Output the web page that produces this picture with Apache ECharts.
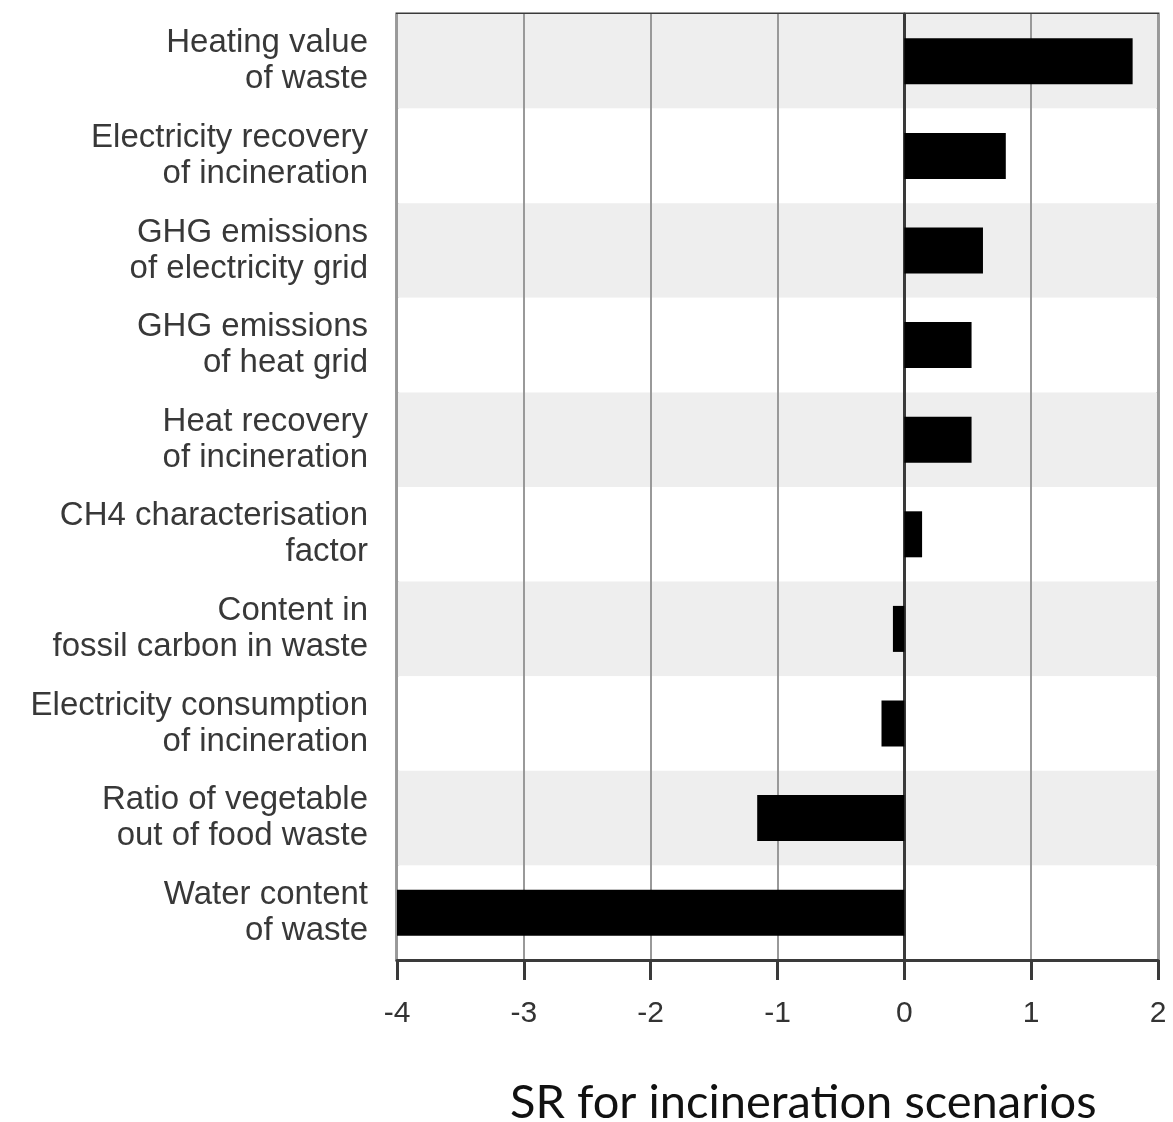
<!DOCTYPE html>
<html><head><meta charset="utf-8">
<script src="https://cdn.jsdelivr.net/npm/echarts@6/dist/echarts.min.js"></script>
<style>html,body{margin:0;padding:0;background:#fff}#c{width:1173px;height:1122px}</style>
</head><body><div id="c"></div>
<script>
const categories = [
  "Heating value\nof waste",
  "Electricity recovery\nof incineration",
  "GHG emissions\nof electricity grid",
  "GHG emissions\nof heat grid",
  "Heat recovery\nof incineration",
  "CH4 characterisation\nfactor",
  "Content in\nfossil carbon in waste",
  "Electricity consumption\nof incineration",
  "Ratio of vegetable\nout of food waste",
  "Water content\nof waste"
];
const srValues = [1.80, 0.80, 0.62, 0.53, 0.53, 0.14, -0.09, -0.18, -1.16, -4.0];
const xTicks = [-4, -3, -2, -1, 0, 1, 2];
const axisTitle = 'SR for incineration scenarios';

const chart = echarts.init(document.getElementById('c'));
chart.setOption({
  animation: false,
  grid: {left: 397, right: 15, top: 14, bottom: 162, show: true, borderColor: '#3a3a3a', borderWidth: 3, backgroundColor: 'transparent'},
  xAxis: {
    type: 'value', min: xTicks[0], max: xTicks[xTicks.length-1], interval: 1,
    axisLine: {show: true, lineStyle: {color: '#3a3a3a', width: 3}},
    axisTick: {show: true, length: 20, lineStyle: {color: '#3a3a3a', width: 3}},
    axisLabel: {fontFamily: 'Liberation Sans', fontSize: 30, color: '#333', margin: 39},
    splitLine: {show: true, lineStyle: {color: '#999', width: 2}}
  },
  yAxis: {
    type: 'category', data: categories, inverse: true,
    axisLine: {show: true, onZero: true, lineStyle: {color: '#3a3a3a', width: 3}},
    axisTick: {show: false},
    axisLabel: {fontFamily: 'Liberation Sans', fontSize: 33, color: '#383838', lineHeight: 36, margin: 29, align: 'right'},
    splitArea: {show: true, areaStyle: {color: ['#eeeeee', '#ffffff']}}
  },
  graphic: [{
    type: 'text', left: 510, top: 1079,
    style: {text: axisTitle, fontFamily: 'Lato', fontSize: 47, fill: '#111'}
  }],
  series: [{
    type: 'bar', data: srValues, barWidth: 46,
    itemStyle: {color: '#000'}
  }]
});
</script></body></html>
